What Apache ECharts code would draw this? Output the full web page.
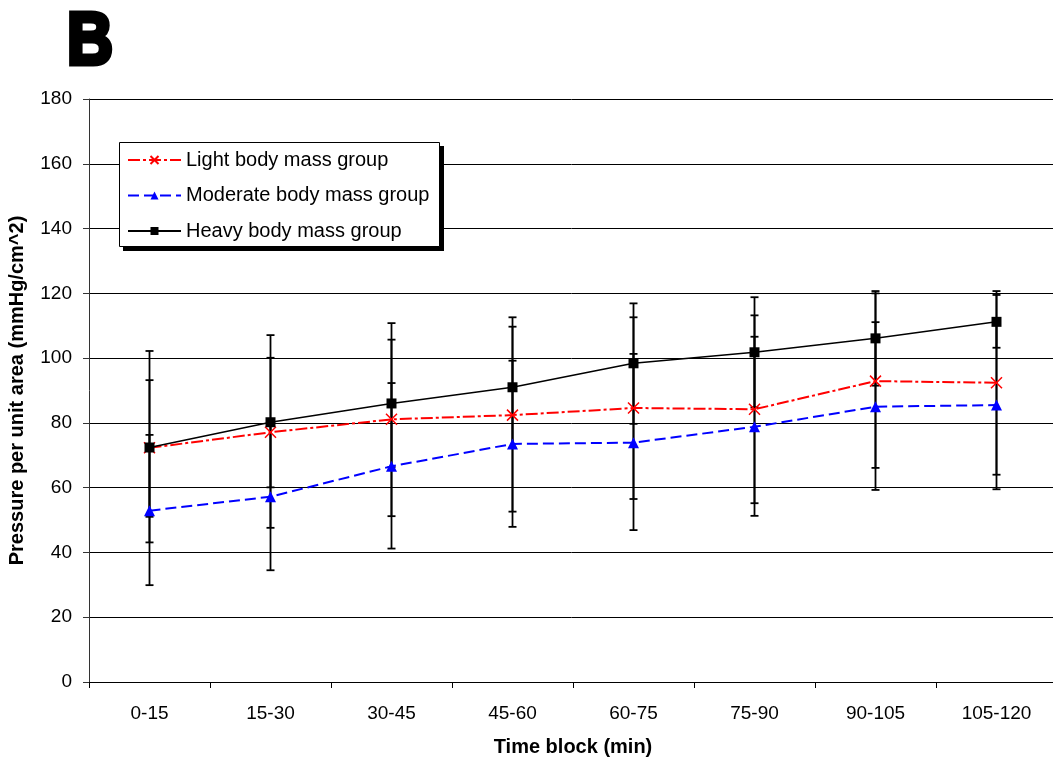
<!DOCTYPE html>
<html>
<head>
<meta charset="utf-8">
<script src="https://cdn.jsdelivr.net/npm/echarts@6/dist/echarts.min.js"></script>
<style>
  html, body { margin: 0; padding: 0; background: #ffffff; }
  #chart { width: 1053px; height: 759px; }
</style>
</head>
<body>
<div id="chart"></div>
<script>
// Time blocks on the horizontal axis
const timeBlocks = ['0-15', '15-30', '30-45', '45-60', '60-75', '75-90', '90-105', '105-120'];

// Mean pressure per unit area (mmHg/cm^2) for each group
const lightMean    = [72.3, 77.1, 81.1, 82.4, 84.6, 84.2, 92.9, 92.4];
const moderateMean = [52.9, 57.2, 66.6, 73.5, 73.9, 78.8, 85.0, 85.5];
const heavyMean    = [72.4, 80.2, 86.0, 91.0, 98.4, 101.8, 106.1, 111.2];

// Error bar ends (lower / upper) for each group
const lightLow     = [51.0, 47.6, 51.2, 52.6, 56.5, 55.2, 66.1, 64.0];
const lightHigh    = [93.2, 107.1, 110.8, 112.6, 112.6, 113.2, 120.0, 120.7];
const moderateLow  = [29.9, 34.5, 41.2, 47.9, 46.9, 51.3, 59.3, 59.5];
const moderateHigh = [76.3, 79.9, 92.3, 99.2, 101.3, 106.6, 111.1, 111.5];
const heavyLow     = [43.1, 60.1, 66.3, 72.3, 79.7, 84.8, 91.5, 103.2];
const heavyHigh    = [102.2, 100.1, 105.7, 109.7, 116.9, 118.8, 120.7, 119.5];

// Series names shown in the legend
const groupNames = ['Light body mass group', 'Moderate body mass group', 'Heavy body mass group'];

// Value axis range
const yMin = 0, yMax = 180, yStep = 20;

const FONT = '"Liberation Sans", Arial, Helvetica, sans-serif';
const crossPath = 'path://M0,0L10,10M10,0L0,10';

// Vertical error bar with a short cap at each end
function errorBars(name, low, high) {
  return {
    type: 'custom',
    name: name + ' (SD)',
    silent: true,
    z: 2,
    data: low.map((l, i) => [i, l, high[i]]),
    encode: { x: 0, y: [1, 2] },
    renderItem(params, api) {
      const i = api.value(0);
      const top = api.coord([i, api.value(2)]);
      const bot = api.coord([i, api.value(1)]);
      const hw = 4;
      const style = { stroke: '#000000', lineWidth: 1.8, fill: null };
      return {
        type: 'group',
        children: [
          { type: 'line', shape: { x1: top[0], y1: top[1], x2: bot[0], y2: bot[1] }, style },
          { type: 'line', shape: { x1: top[0] - hw, y1: top[1], x2: top[0] + hw, y2: top[1] }, style },
          { type: 'line', shape: { x1: bot[0] - hw, y1: bot[1], x2: bot[0] + hw, y2: bot[1] }, style }
        ]
      };
    }
  };
}

const chart = echarts.init(document.getElementById('chart'), null, { renderer: 'canvas' });

chart.setOption({
  animation: false,
  backgroundColor: '#ffffff',
  textStyle: { fontFamily: FONT },
  graphic: [
    // Panel letter
    {
      type: 'text',
      x: 67,
      y: 7,
      scaleX: 0.86,
      z: 10,
      style: {
        text: 'B',
        font: 'bold 74px "Liberation Sans", Arial, sans-serif',
        fill: '#000000',
        stroke: '#000000',
        lineWidth: 5,
        textVerticalAlign: 'top'
      }
    },
    // Legend frame with its drop shadow
    {
      type: 'rect',
      z: 5,
      shape: { x: 123, y: 146, width: 321, height: 105 },
      style: { fill: '#000000' }
    },
    {
      type: 'rect',
      z: 6,
      shape: { x: 119.5, y: 142.5, width: 320, height: 104 },
      style: { fill: '#ffffff', stroke: '#000000', lineWidth: 1 }
    }
  ],
  grid: {
    left: 89, top: 99, width: 968, height: 583,
    containLabel: false,
    outerBoundsMode: 'none'
  },
  legend: {
    data: groupNames,
    orient: 'vertical',
    left: 127,
    top: 150,
    padding: 0,
    itemWidth: 53,
    itemHeight: 10,
    itemGap: 15.5,
    z: 8,
    textStyle: { fontFamily: FONT, fontSize: 20, color: '#000000', lineHeight: 20 }
  },
  xAxis: {
    type: 'category',
    data: timeBlocks,
    boundaryGap: true,
    name: 'Time block (min)',
    nameLocation: 'middle',
    nameGap: 55,
    nameTextStyle: { fontFamily: FONT, fontSize: 20, fontWeight: 'bold', color: '#000000' },
    axisLine: { show: true, lineStyle: { color: '#000000', width: 1 } },
    axisTick: { show: true, length: 6, inside: false, lineStyle: { color: '#000000' } },
    axisLabel: { fontFamily: FONT, fontSize: 19, color: '#000000', margin: 22 },
    splitLine: { show: false }
  },
  yAxis: {
    type: 'value',
    min: yMin,
    max: yMax,
    interval: yStep,
    name: 'Pressure per unit area (mmHg/cm^2)',
    nameLocation: 'middle',
    nameGap: 62,
    nameTextStyle: { fontFamily: FONT, fontSize: 20, fontWeight: 'bold', color: '#000000' },
    axisLine: { show: true, lineStyle: { color: '#333333', width: 1 } },
    axisTick: { show: true, length: 6, inside: false, lineStyle: { color: '#333333' } },
    axisLabel: { fontFamily: FONT, fontSize: 19, color: '#000000', margin: 17 },
    splitLine: { show: true, lineStyle: { color: '#000000', width: 1 } }
  },
  series: [
    errorBars(groupNames[0], lightLow, lightHigh),
    errorBars(groupNames[1], moderateLow, moderateHigh),
    errorBars(groupNames[2], heavyLow, heavyHigh),
    {
      type: 'line',
      name: groupNames[0],
      data: lightMean,
      z: 3,
      symbol: crossPath,
      symbolSize: 11,
      showAllSymbol: true,
      color: '#ff0000',
      lineStyle: { color: '#ff0000', width: 2, type: [12, 3, 3, 3] },
      itemStyle: { color: '#ff0000', borderColor: '#ff0000', borderWidth: 1.5 }
    },
    {
      type: 'line',
      name: groupNames[1],
      data: moderateMean,
      z: 3,
      symbol: 'triangle',
      symbolSize: 11,
      showAllSymbol: true,
      color: '#0000ff',
      lineStyle: { color: '#0000ff', width: 2, type: [11, 5] },
      itemStyle: { color: '#0000ff', borderWidth: 0 }
    },
    {
      type: 'line',
      name: groupNames[2],
      data: heavyMean,
      z: 4,
      symbol: 'rect',
      symbolSize: 10,
      showAllSymbol: true,
      color: '#000000',
      lineStyle: { color: '#000000', width: 1.5, type: 'solid' },
      itemStyle: { color: '#000000', borderWidth: 0 }
    }
  ]
});
</script>
</body>
</html>
